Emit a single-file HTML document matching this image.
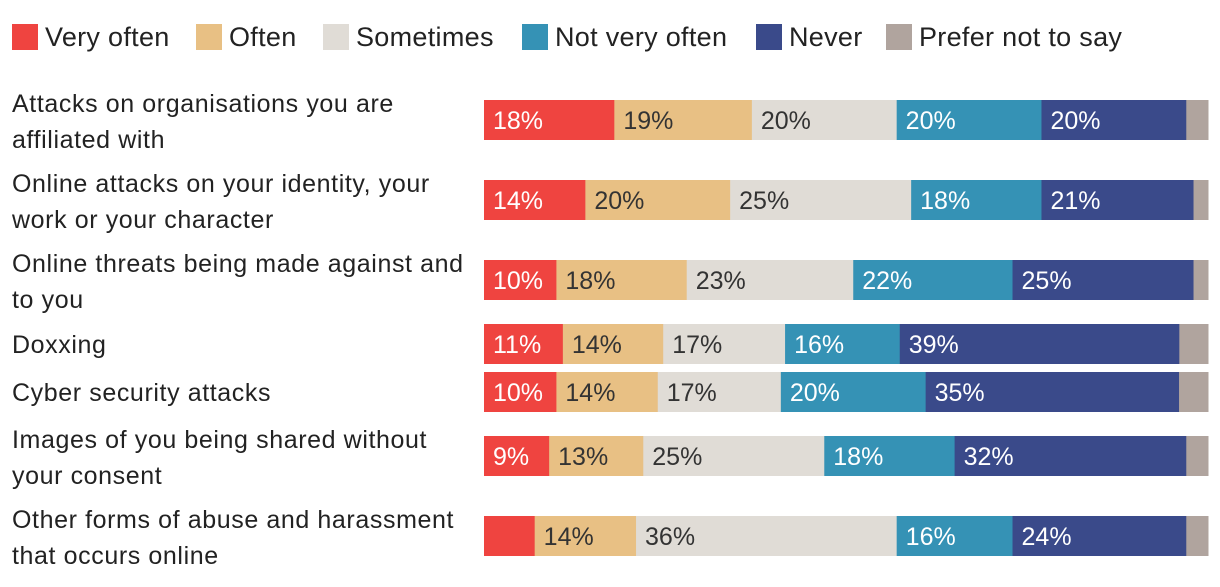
<!DOCTYPE html>
<html><head><meta charset="utf-8">
<style>
body{margin:0;width:1220px;height:582px;background:#fff;font-family:"Liberation Sans",sans-serif;overflow:hidden}
svg text{font-family:"Liberation Sans",sans-serif}
</style></head>
<body>
<svg id="chart" width="1220" height="582"></svg>
<script>
const categories=[["Attacks on organisations you are","affiliated with"],["Online attacks on your identity, your","work or your character"],["Online threats being made against and","to you"],["Doxxing"],["Cyber security attacks"],["Images of you being shared without","your consent"],["Other forms of abuse and harassment","that occurs online"]];
const seriesNames=["Very often","Often","Sometimes","Not very often","Never","Prefer not to say"];
const veryOften=[18,14,10,11,10,9,7];
const often=[19,20,18,14,14,13,14];
const sometimes=[20,25,23,17,17,25,36];
const notVeryOften=[20,18,22,16,20,18,16];
const never=[20,21,25,39,35,32,24];
const preferNot=[3,2,2,4,4,3,3];
const showLabel=[[1,1,1,1,1,1],[1,1,1,1,1,1],[1,1,1,1,1,1],[1,1,1,1,1,1],[1,1,1,1,1,1],[1,1,1,1,1,1],[0,1,1,1,1,1]];
const colors=["#ef4440","#e8c084","#e0dcd6","#3592b5","#3a4a8a","#b0a49e"];
const textColors=["#fff","#333","#333","#fff","#fff","#fff"];
const rowCenters=[120,200,280,344,392,456,536];
const NS="http://www.w3.org/2000/svg";
const svg=document.getElementById('chart');
function mk(t,a){const e=document.createElementNS(NS,t);for(const k in a)e.setAttribute(k,a[k]);svg.appendChild(e);return e;}
const x0=484,x1=1208,barH=40;
const xScale=(v,tot)=>v/tot*(x1-x0);
const legX=[12,196,323,522,756,886];
seriesNames.forEach((n,i)=>{
 const r=mk('rect',{x:legX[i],y:24,width:26,height:26,fill:colors[i]});
 
 
 const t=mk('text',{x:legX[i]+33,y:46,'font-size':27,'letter-spacing':0.3,fill:'#222'});t.textContent=n;
 
 
});
const all=[veryOften,often,sometimes,notVeryOften,never,preferNot];
categories.forEach((lines,r)=>{
 const cy=rowCenters[r];
 lines.forEach((l,j)=>{
  const y=lines.length===1?cy+9:cy-17+9+j*36;
  const t=mk('text',{x:12,y:y,'font-size':25,'letter-spacing':0.6,fill:'#222'});t.textContent=l;
  
  
 });
 const tot=all.reduce((s,a)=>s+a[r],0);
 let x=x0;
 all.forEach((a,i)=>{
  const w=xScale(a[r],tot);
  const b=mk('rect',{x:x,y:cy-barH/2,width:w+0.5,height:barH,fill:colors[i]});
  
  
  if(i<5&&showLabel[r][i]){
   const t=mk('text',{x:x+9,y:cy+9,'font-size':25,fill:textColors[i]});t.textContent=a[r]+'%';
   
   
  }
  x+=w;
 });
});
</script>
</body></html>
